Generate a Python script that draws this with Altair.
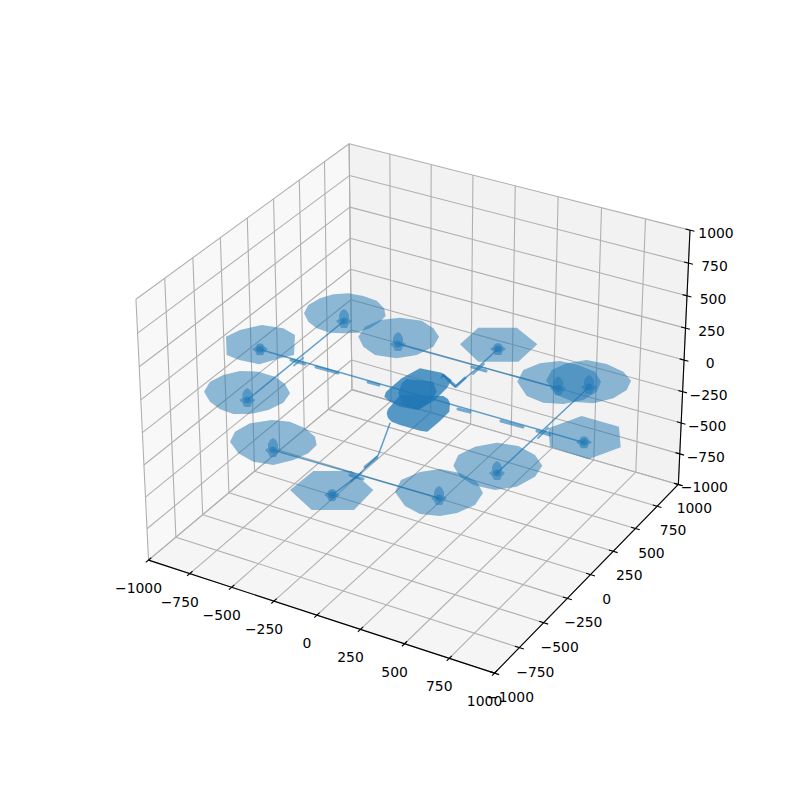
import altair as alt
import numpy as np
import pandas as pd

BLUE = "#1f77b4"
LIMS = [-1000, -750, -500, -250, 0, 250, 500, 750, 1000]
LABELS = ["\u22121000", "\u2212750", "\u2212500", "\u2212250", "0", "250", "500", "750", "1000"]

# rotor discs (px on the page)
DISCS = [
    [(304,313.3),(308.3,305),(320,298.3),(333.3,294.3),(348.3,293.3),(363.3,296),(376.7,300.7),(384,308.3),(385.7,316),(380,321.7),(370,328.3),(356.7,332.7),(343.3,333.3),(330,332.7),(316.7,328.3),(308.3,321.7)],
    [(226,336.7),(240,330),(261.7,325),(283.3,328.3),(295,335),(294,355),(280,358.3),(259.3,364.3),(239.3,360),(226.7,355)],
    [(204,391.7),(210,381.7),(223.3,375),(240,371),(258.3,371.7),(275,376.7),(285,384),(290,393.3),(283.3,402.7),(268.3,410),(250,414),(233.3,414),(220,409.3),(210,401.7)],
    [(230,441.7),(235,431.7),(250,423.3),(271.7,420),(290,421.7),(305,428.3),(315,436.7),(316.7,445),(308.3,453.3),(293.3,460),(273.3,465),(253.3,461.7),(238.3,453.3)],
    [(290,490),(313.3,471),(351.7,471),(373.3,490),(354,510),(311.7,510)],
    [(358.3,336.7),(365,326.7),(380,320),(400,317.7),(421.7,320.7),(433.3,328.3),(439,336.7),(433.3,346.7),(416.7,355),(396.7,358.3),(375,355),(363.3,346.7)],
    [(460,344.3),(478.3,327.7),(516.7,327.7),(537.3,344.3),(518.3,361.7),(478.3,361.7)],
    [(517.3,381.7),(523.3,370),(540,363.3),(560,361),(578.3,365),(595,371.7),(601,381.7),(596.7,391.7),(583.3,400),(563.3,404),(543.3,402.7),(526.7,396)],
    [(546,380.7),(551.7,370),(566.7,363.3),(586.7,360),(606.7,364),(623.3,371.7),(631,380.7),(626.7,390),(613.3,398.3),(593.3,403.3),(573.3,401.7),(556.7,395)],
    [(548.3,428.3),(581.7,416),(619,426.7),(620.7,447.3),(588.3,459.3),(550,446.7)],
    [(453.3,465.7),(458.3,455),(475,446.7),(496.7,442.7),(518.3,446),(535,455),(542.3,465.7),(535,476.7),(516.7,486.7),(495,490),(473.3,485),(460,476.7)],
    [(395,492),(401,480),(420,472),(440,469),(460,473),(477,482),(483,493),(475,505),(457,513),(440,516),(420,514),(405,506)],
]
# central body
BODY = [
    [(386.7,413.3),(388,409),(390,406.7),(400,395),(443.3,396),(448,399),(450,403.3),(449.3,411.7),(440,421),(427.3,431.7),(420,430.7),(400,425),(391.7,421.7),(388,418)],
    [(384.3,396.7),(386,392),(390,388.3),(401.7,378.3),(420,368.3),(441.7,372.7),(451.7,380),(446.7,388.3),(435,400),(418.3,410),(400,406.7),(390,401.7)],
    [(401.7,383.3),(406.7,379),(433.3,381.7),(436.7,391.7),(430,401.7),(418.3,410),(403.3,405),(398.3,393.3)],
]
# motor hubs
TALL_HUBS = [(344,321),(247.3,400),(273,450),(398,344),(558.3,388.3),(589,387),(497,473),(439,498)]
SHORT_HUBS = [(260,349.3),(332,495),(498,349),(584,442.3)]
TALL_SHAPE = [(0,-12),(3,-10),(5,-6),(5,-2),(8,0),(5,3),(3,7),(-3,7),(-5,3),(-8,0),(-5,-2),(-5,-6),(-3,-10)]
SHORT_SHAPE = [(0,-6),(3,-5),(5,-2),(8,0),(5,2),(3,6),(-3,6),(-5,2),(-8,0),(-5,-2),(-3,-5)]
CORE_SHAPE = [(0,-3.5),(3,-2.5),(4,0),(3,2.5),(0,3.5),(-3,2.5),(-4,0),(-3,-2.5)]
# frame tubes
TUBES = [
    [(260,349.5),(584,442.5)],
    [(398,344),(558.3,388.3)],
    [(273,450),(439,498)],
    [(247.3,400),(344,321)],
    [(497,473),(589,387)],
    [(332,495),(356.7,476.7),(378.3,455),(390,423.3)],
    [(441,378),(443.3,375),(455,386.7),(475,370),(498,349)],
]
THICK = [
    [(316,367),(338,373)],[(368,382),(379,385)],[(458,409),(470,412)],[(501,421),(523,427)],
    [(365,467),(377,457.5)],[(443.3,375),(450,381.5),(456,386.5),(465,378)],
    [(291,360),(305,364)],[(350,475),(363,479)],[(472,367),(486,371)],[(537,431),(550,435)],
]
JUNCTION = [[(294,365.5),(303,358)],[(351,481),(361,473)],[(473,374),(484,364)],[(538,438),(548,428)]]

def project(x, y, z):
    aspect = np.array([4.0, 4.0, 3.0]) * 1.8294640721620434 * 25 / 24 / np.sqrt(41)
    p = (np.array([x, y, z], dtype=float) + 1000) / 2000 * aspect
    R = aspect / 2
    el, az = np.radians(30), np.radians(-60)
    w = np.array([np.cos(el) * np.cos(az), np.cos(el) * np.sin(az), np.sin(el)])
    E = R + 10 * w
    u = np.cross([0, 0, 1], w); u /= np.linalg.norm(u)
    v = np.cross(w, u)
    d = p - E
    xp, yp = u @ d / -(w @ d), v @ d / -(w @ d)
    return 102 + (xp + 0.095) / 0.185 * 616, 712 - (yp + 0.095) / 0.185 * 616

def table(shapes):
    return pd.DataFrame([{"id": k, "i": i, "x": float(px), "y": float(py)}
                         for k, s in enumerate(shapes) for i, (px, py) in enumerate(s)])

X = alt.X("x:Q", scale=alt.Scale(domain=[8, 792], nice=False, zero=False), axis=None)
Y = alt.Y("y:Q", scale=alt.Scale(domain=[792, 8], nice=False, zero=False), axis=None)

def poly(shapes, color, opacity):
    return alt.Chart(table(shapes)).mark_line(
        interpolate="linear-closed", fill=color, fillOpacity=opacity, strokeOpacity=0, strokeWidth=0
    ).encode(x=X, y=Y, detail="id:N", order="i:Q")

def lines(shapes, color, width, opacity=1.0, cap="butt"):
    return alt.Chart(table(shapes)).mark_line(
        color=color, strokeWidth=width, opacity=opacity, strokeCap=cap, strokeJoin="round"
    ).encode(x=X, y=Y, detail="id:N", order="i:Q")

lo, hi = -1000, 1000
pane_x = [[project(lo, lo, lo), project(lo, hi, lo), project(lo, hi, hi), project(lo, lo, hi)]]
pane_y = [[project(lo, hi, lo), project(hi, hi, lo), project(hi, hi, hi), project(lo, hi, hi)]]
pane_z = [[project(lo, lo, lo), project(hi, lo, lo), project(hi, hi, lo), project(lo, hi, lo)]]

grid = []
for t in LIMS:
    grid.append([project(t, lo, lo), project(t, hi, lo), project(t, hi, hi)])
    grid.append([project(hi, t, lo), project(lo, t, lo), project(lo, t, hi)])
    grid.append([project(lo, lo, t), project(lo, hi, t), project(hi, hi, t)])

axes_lines = [
    [project(lo, lo, lo), project(hi, lo, lo)],
    [project(hi, lo, lo), project(hi, hi, lo)],
    [project(hi, hi, lo), project(hi, hi, hi)],
]
OUT, IN = 25, 25
ticks = []
for t in LIMS:
    ticks.append([project(t, lo - OUT, lo), project(t, lo + IN, lo)])
    ticks.append([project(hi + OUT, t, lo), project(hi - IN, t, lo)])
    ticks.append([project(hi + OUT, hi, t), project(hi - IN, hi, t)])

def labels(points, dx, dy):
    df = pd.DataFrame({"x": [p[0] + dx for p in points], "y": [p[1] + dy for p in points], "t": LABELS})
    return alt.Chart(df).mark_text(font="DejaVu Sans", fontSize=13.9, color="black", align="center", baseline="middle").encode(x=X, y=Y, text="t:N")

def at(centres, shape, dy=0.0):
    return [[(c[0] + a, c[1] + b + dy) for a, b in shape] for c in centres]

ALL_HUBS = TALL_HUBS + SHORT_HUBS

layers = [
    poly(pane_x, "#f2f2f2", 0.5),
    poly(pane_y, "#e6e6e6", 0.5),
    poly(pane_z, "#ececec", 0.5),
    lines(grid, "#b0b0b0", 1.1),
    lines(axes_lines, "black", 1.1),
    lines(ticks, "black", 1.1),
    labels([project(t, lo, lo) for t in LIMS], -10, 29),
    labels([project(hi, t, lo) for t in LIMS], 16, 25),
    labels([project(hi, hi, t) for t in LIMS], 26, 4),
    poly(DISCS, BLUE, 0.5),
    poly(BODY, BLUE, 0.75),
    lines(TUBES, BLUE, 1.5, 0.7, "round"),
    lines(THICK, BLUE, 3.0, 0.6, "round"),
    lines(JUNCTION, BLUE, 1.8, 0.6, "round"),
    poly(at(TALL_HUBS, TALL_SHAPE), BLUE, 0.5),
    poly(at(SHORT_HUBS, SHORT_SHAPE), BLUE, 0.55),
    poly(at(ALL_HUBS, CORE_SHAPE), BLUE, 0.6),
]

chart = alt.layer(*layers).properties(
    width=784, height=784, padding=0, autosize=alt.AutoSizeParams(type="none")
).configure_view(stroke=None)

chart.save("out.html", embed_options={"renderer": "svg", "actions": False})
